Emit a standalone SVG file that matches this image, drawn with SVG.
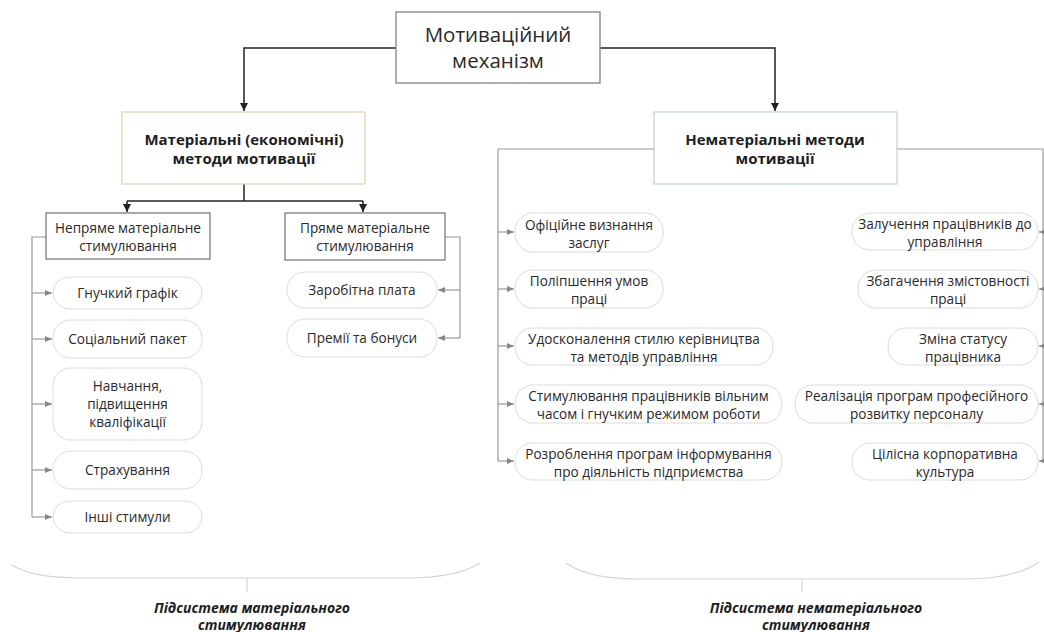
<svg xmlns="http://www.w3.org/2000/svg" width="1044" height="632" viewBox="0 0 1044 632">
<defs>
<style>
.t{font-family:"Open Sans","Liberation Sans",sans-serif;fill:#2a2a2a;text-anchor:middle;}
.top{font-size:20.5px;}
.main{font-size:15px;font-weight:bold;fill:#1e1e1e;}
.box{font-size:13.6px;}
.pill{font-size:13.6px;}
.sub{font-size:14px;font-weight:bold;font-style:italic;fill:#1e1e1e;}
.pr{fill:#fff;stroke:#dcdcdc;stroke-width:1;}
.blk{fill:none;stroke:#222;stroke-width:1.5;}
.gry{fill:none;stroke:#999;stroke-width:1.2;}
.brace{fill:none;stroke:#d4d4d4;stroke-width:1.2;}
</style>
<marker id="ab" markerWidth="10" markerHeight="10" refX="9" refY="5" orient="auto" markerUnits="userSpaceOnUse">
<path d="M1,1 L9,5 L1,9 Z" fill="#222"/>
</marker>
<marker id="ag" markerWidth="9" markerHeight="8" refX="8" refY="4" orient="auto" markerUnits="userSpaceOnUse">
<path d="M1,1 L8,4 L1,7 Z" fill="#888"/>
</marker>
</defs>
<rect width="1044" height="632" fill="#fff"/>

<g id="connectors">
<path class="blk" d="M396,48 H244 V111" marker-end="url(#ab)"/>
<path class="blk" d="M600,48 H775 V111" marker-end="url(#ab)"/>
<path class="blk" d="M244,184 V201"/>
<path class="blk" d="M127,201 H363"/>
<path class="blk" d="M127,201 V212" marker-end="url(#ab)"/>
<path class="blk" d="M363,201 V212" marker-end="url(#ab)"/>

<path class="gry" d="M46,237 H32 V517"/>
<path class="gry" d="M32,293 H52" marker-end="url(#ag)"/>
<path class="gry" d="M32,339 H52" marker-end="url(#ag)"/>
<path class="gry" d="M32,404 H52" marker-end="url(#ag)"/>
<path class="gry" d="M32,470 H52" marker-end="url(#ag)"/>
<path class="gry" d="M32,517 H52" marker-end="url(#ag)"/>

<path class="gry" d="M445,237 H460 V338"/>
<path class="gry" d="M460,290 H438" marker-end="url(#ag)"/>
<path class="gry" d="M460,338 H438" marker-end="url(#ag)"/>

<path class="gry" d="M654,149 H498 V461"/>
<path class="gry" d="M498,232 H514" marker-end="url(#ag)"/>
<path class="gry" d="M498,289 H514" marker-end="url(#ag)"/>
<path class="gry" d="M498,346 H514" marker-end="url(#ag)"/>
<path class="gry" d="M498,404 H514" marker-end="url(#ag)"/>
<path class="gry" d="M498,461 H514" marker-end="url(#ag)"/>

<path class="gry" d="M897,149 H1043 V461"/>
<path class="gry" d="M1043,232 H1039" marker-end="url(#ag)"/>
<path class="gry" d="M1043,289 H1039" marker-end="url(#ag)"/>
<path class="gry" d="M1043,346 H1039" marker-end="url(#ag)"/>
<path class="gry" d="M1043,404 H1039" marker-end="url(#ag)"/>
<path class="gry" d="M1043,461 H1039" marker-end="url(#ag)"/>
</g>

<g id="n-top">
<rect x="396" y="12" width="204" height="71" fill="#fff" stroke="#777" stroke-width="1.2"/>
<text class="t top" x="498" y="42">Мотиваційний</text>
<text class="t top" x="498" y="68">механізм</text>
</g>

<g id="n-material">
<rect x="122" y="112" width="243" height="72" fill="#fff" stroke="#e2cfae" stroke-width="1.2"/>
<text class="t main" x="244" y="145">Матеріальні (економічні)</text>
<text class="t main" x="244" y="164">методи мотивації</text>
</g>

<g id="n-nonmaterial">
<rect x="654" y="112" width="243" height="72" fill="#fff" stroke="#bccfdc" stroke-width="1.2"/>
<text class="t main" x="775" y="145">Нематеріальні методи</text>
<text class="t main" x="775" y="164">мотивації</text>
</g>

<g id="n-indirect">
<rect x="46" y="213" width="164" height="46" fill="#fff" stroke="#555" stroke-width="1"/>
<text class="t box" x="128" y="233">Непряме матеріальне</text>
<text class="t box" x="128" y="251">стимулювання</text>
</g>

<g id="n-direct">
<rect x="285" y="213" width="160" height="47" fill="#fff" stroke="#555" stroke-width="1"/>
<text class="t box" x="365" y="233">Пряме матеріальне</text>
<text class="t box" x="365" y="251">стимулювання</text>
</g>

<g id="n-flex">
<rect class="pr" x="53" y="277" width="149" height="32" rx="16"/>
<text class="t pill" x="127.5" y="298">Гнучкий графік</text>
</g>
<g id="n-social">
<rect class="pr" x="53" y="320" width="149" height="38" rx="18"/>
<text class="t pill" x="127.5" y="344">Соціальний пакет</text>
</g>
<g id="n-training">
<rect class="pr" x="53" y="368" width="149" height="72" rx="18"/>
<text class="t pill" x="127.5" y="391">Навчання,</text>
<text class="t pill" x="127.5" y="409">підвищення</text>
<text class="t pill" x="127.5" y="427">кваліфікації</text>
</g>
<g id="n-insurance">
<rect class="pr" x="53" y="451" width="149" height="38" rx="18"/>
<text class="t pill" x="127.5" y="475">Страхування</text>
</g>
<g id="n-other">
<rect class="pr" x="53" y="501" width="149" height="32" rx="16"/>
<text class="t pill" x="127.5" y="522">Інші стимули</text>
</g>

<g id="n-salary">
<rect class="pr" x="287" y="272" width="150" height="36" rx="18"/>
<text class="t pill" x="362" y="295">Заробітна плата</text>
</g>
<g id="n-bonus">
<rect class="pr" x="287" y="319" width="150" height="38" rx="18"/>
<text class="t pill" x="362" y="343">Премії та бонуси</text>
</g>

<g id="n-recognition">
<rect class="pr" x="515" y="213" width="148" height="39" rx="18"/>
<text class="t pill" x="589" y="229.5">Офіційне визнання</text>
<text class="t pill" x="589" y="247.5">заслуг</text>
</g>
<g id="n-conditions">
<rect class="pr" x="515" y="270" width="148" height="38" rx="18"/>
<text class="t pill" x="589" y="286">Поліпшення умов</text>
<text class="t pill" x="589" y="304">праці</text>
</g>
<g id="n-style">
<rect class="pr" x="515" y="328" width="258" height="37" rx="18"/>
<text class="t pill" x="644" y="343.5">Удосконалення стилю керівництва</text>
<text class="t pill" x="644" y="361.5">та методів управління</text>
</g>
<g id="n-freetime">
<rect class="pr" x="515" y="385" width="267" height="38" rx="18"/>
<text class="t pill" x="648.5" y="401">Стимулювання працівників вільним</text>
<text class="t pill" x="648.5" y="419">часом і гнучким режимом роботи</text>
</g>
<g id="n-inform">
<rect class="pr" x="515" y="443" width="267" height="37" rx="18"/>
<text class="t pill" x="648.5" y="458.5">Розроблення програм інформування</text>
<text class="t pill" x="648.5" y="476.5">про діяльність підприємства</text>
</g>

<g id="n-involve">
<rect class="pr" x="852" y="213" width="186" height="37" rx="18"/>
<text class="t pill" x="945" y="228.5">Залучення працівників до</text>
<text class="t pill" x="945" y="246.5">управління</text>
</g>
<g id="n-enrich">
<rect class="pr" x="858" y="270" width="180" height="38" rx="18"/>
<text class="t pill" x="948" y="286">Збагачення змістовності</text>
<text class="t pill" x="948" y="304">праці</text>
</g>
<g id="n-status">
<rect class="pr" x="888" y="328" width="150" height="37" rx="18"/>
<text class="t pill" x="963" y="343.5">Зміна статусу</text>
<text class="t pill" x="963" y="361.5">працівника</text>
</g>
<g id="n-development">
<rect class="pr" x="795" y="385" width="243" height="38" rx="18"/>
<text class="t pill" x="916.5" y="401">Реалізація програм професійного</text>
<text class="t pill" x="916.5" y="419">розвитку персоналу</text>
</g>
<g id="n-culture">
<rect class="pr" x="852" y="443" width="186" height="37" rx="18"/>
<text class="t pill" x="945" y="458.5">Цілісна корпоративна</text>
<text class="t pill" x="945" y="476.5">культура</text>
</g>

<g id="subsystems">
<path class="brace" d="M12,565 C30,576 55,578 85,578 H405 C440,578 465,573 480,563"/>
<path class="brace" d="M247,578 V592"/>
<text class="t sub" x="252" y="613">Підсистема матеріального</text>
<text class="t sub" x="252" y="630">стимулювання</text>
<path class="brace" d="M566,563 C585,576 610,579 640,579 H965 C1000,579 1025,572 1039,562"/>
<path class="brace" d="M802,579 V592"/>
<text class="t sub" x="816" y="613">Підсистема нематеріального</text>
<text class="t sub" x="816" y="630">стимулювання</text>
</g>
</svg>
